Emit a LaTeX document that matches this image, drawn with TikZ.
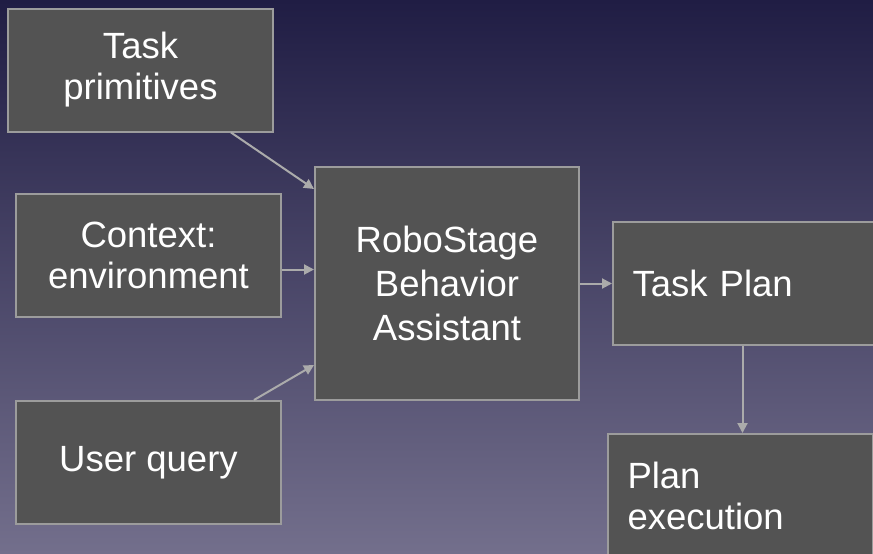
\documentclass[tikz,border=0pt]{standalone}
\usepackage{fontspec}
\setmainfont{Liberation Sans}
\usetikzlibrary{arrows.meta}
\definecolor{bgtop}{HTML}{201D44}
\definecolor{bgmid}{HTML}{4A4675}
\definecolor{bgbot}{HTML}{736F8C}
\definecolor{boxfill}{HTML}{535353}
\definecolor{boxline}{HTML}{9C9C9C}
\definecolor{arrowcol}{HTML}{ABABAB}
\tikzset{
  block/.style={draw=boxline, line width=2pt, fill=boxfill, text=white,
    minimum width=265pt, minimum height=123pt, inner sep=0pt,
    font=\fontsize{36.5}{41}\selectfont, align=center},
  leftblock/.style={block, align=left, text width=226pt},
  flow/.style={draw=arrowcol, line width=2pt,
    -{Triangle[length=10pt,width=10pt]}}
}
\begin{document}
\begin{tikzpicture}[x=1pt, y=-1pt]
  % gradient backdrop
  \useasboundingbox (0,0) rectangle (873,554);
  \shade[top color=bgtop, middle color=bgmid, bottom color=bgbot]
    (0,0) rectangle (873,554);

  % inputs
  \node[block] (prim) at (140.5,70) {Task\\primitives};
  \node[block] (ctx)  at (148.5,255.5) {Context:\\environment};
  \node[block] (query) at (148.5,462.5) {User query};

  % assistant
  \node[block, minimum width=264pt, minimum height=233pt,
        font=\fontsize{36.5}{44}\selectfont] (asst) at (447,283.5)
        {RoboStage\\Behavior\\Assistant};

  % outputs
  \node[leftblock] (plan) at (745.5,283.5) {Task Plan};
  \node[leftblock] (exec) at (740.5,495.5) {Plan\\execution};

  % connectors
  \draw[flow] ([xshift=-43pt]prim.south east) -- ([yshift=-23pt]asst.north west);
  \draw[flow] ([yshift=-14pt]ctx.east) -- ([yshift=-14pt]ctx.east -| asst.west);
  \draw[flow] ([xshift=-28pt]query.north east) -- ([yshift=36pt]asst.south west);
  \draw[flow] (asst.east) -- (plan.west);
  \draw[flow] ([xshift=-3pt]plan.south) -- ([xshift=-3pt]plan.south |- exec.north);
\end{tikzpicture}
\end{document}
